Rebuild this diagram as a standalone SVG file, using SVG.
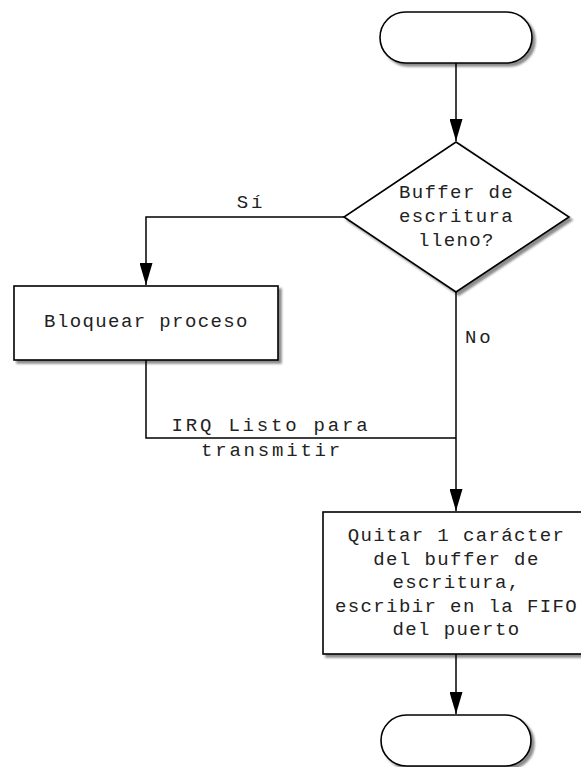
<svg xmlns="http://www.w3.org/2000/svg" width="581" height="767" viewBox="0 0 581 767">
<style>
.shape{fill:#fff;stroke:#000;stroke-width:1.6;filter:url(#sh)}
.edge{fill:none;stroke:#000;stroke-width:1.5}
.t{font-family:"Liberation Mono","Courier New",monospace;font-size:19px;fill:#222;text-anchor:middle;letter-spacing:1.4px}
.lbl{font-family:"Liberation Mono","Courier New",monospace;font-size:19px;fill:#222;text-anchor:middle;letter-spacing:2.8px}
</style>
<defs>
<filter id="sh" x="-10%" y="-10%" width="130%" height="130%">
<feDropShadow dx="3" dy="3" stdDeviation="1.2" flood-color="#000" flood-opacity="0.45"/>
</filter>
<marker id="arr" markerUnits="userSpaceOnUse" markerWidth="22" markerHeight="13" refX="22" refY="6.5" orient="auto">
<path d="M0,0 L22,6.5 L0,13 z" fill="#000"/>
</marker>
</defs>
<g id="connectors">
<path class="edge" d="M456,63 V141" marker-end="url(#arr)"/>
<path class="edge" d="M344,217 H146 V285" marker-end="url(#arr)"/>
<path class="edge" d="M456,292 V511" marker-end="url(#arr)"/>
<path class="edge" d="M146,360 V438 H456"/>
<path class="edge" d="M456,654 V714" marker-end="url(#arr)"/>
<text class="lbl" x="251" y="208">Sí</text>
<text class="lbl" x="465" y="343" style="text-anchor:start">No</text>
<text class="lbl" x="271" y="431">IRQ Listo para</text>
<text class="lbl" x="272" y="456">transmitir</text>
</g>
<g id="start">
<rect class="shape" x="380" y="12" width="152" height="51" rx="25.5"/>
</g>
<g id="decision">
<polygon class="shape" points="456,142 569,217 456,292 344,217"/>
<text class="t" x="456.5" y="198">Buffer de</text>
<text class="t" x="456.5" y="222">escritura</text>
<text class="t" x="456.5" y="246">lleno?</text>
</g>
<g id="block">
<rect class="shape" x="14" y="286" width="264" height="74"/>
<text class="t" x="146.5" y="327">Bloquear proceso</text>
</g>
<g id="write">
<rect class="shape" x="323" y="512" width="266" height="142"/>
<text class="t" x="456.5" y="541">Quitar 1 carácter</text>
<text class="t" x="456.5" y="565">del buffer de</text>
<text class="t" x="456.5" y="588">escritura,</text>
<text class="t" x="456.5" y="612">escribir en la FIFO</text>
<text class="t" x="456.5" y="635">del puerto</text>
</g>
<g id="end">
<rect class="shape" x="381" y="715" width="150" height="51" rx="25.5"/>
</g>
</svg>
